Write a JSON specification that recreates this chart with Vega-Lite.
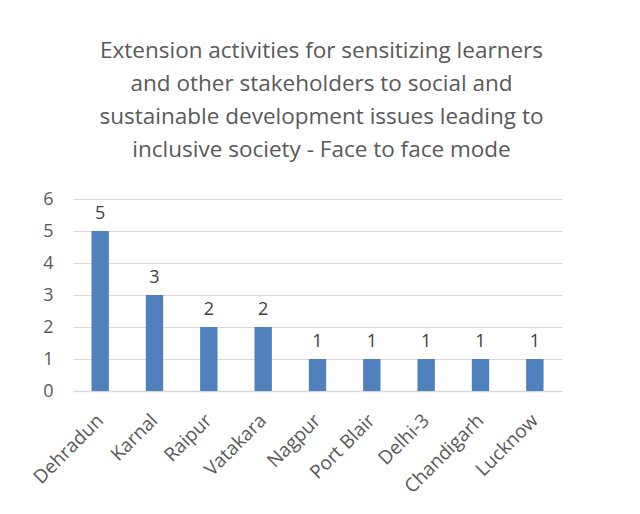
{
  "$schema": "https://vega.github.io/schema/vega-lite/v6.json",
  "width": 489,
  "height": 192,
  "autosize": "none",
  "padding": {"left": 73, "top": 199, "right": 78, "bottom": 123},
  "background": "white",
  "title": {
    "text": ["Extension activities for sensitizing learners", "and other stakeholders to social and", "sustainable development issues leading to", "inclusive society - Face to face mode"],
    "font": "Open Sans",
    "fontSize": 22.5,
    "fontWeight": "normal",
    "color": "#595959",
    "lineHeight": 33,
    "anchor": "middle",
    "dx": 4,
    "offset": 29
  },
  "data": {
    "values": [
      {"city": "Dehradun", "count": 5},
      {"city": "Karnal", "count": 3},
      {"city": "Raipur", "count": 2},
      {"city": "Vatakara", "count": 2},
      {"city": "Nagpur", "count": 1},
      {"city": "Port Blair", "count": 1},
      {"city": "Delhi-3", "count": 1},
      {"city": "Chandigarh", "count": 1},
      {"city": "Lucknow", "count": 1}
    ]
  },
  "encoding": {
    "x": {
      "field": "city", "type": "nominal", "sort": null,
      "scale": {"paddingInner": 0.68, "paddingOuter": 0.34},
      "axis": {
        "title": null, "labelAngle": -45, "labelAlign": "right", "labelBaseline": "middle",
        "labelFont": "Open Sans", "labelFontSize": 19, "labelColor": "#595959",
        "labelPadding": 26, "labelOverlap": false, "labelLimit": 200, "ticks": false, "domainColor": "#d9d9d9", "domainWidth": 1.5, "grid": false
      }
    },
    "y": {
      "field": "count", "type": "quantitative",
      "scale": {"domain": [0, 6], "nice": false},
      "axis": {
        "title": null, "values": [0,1,2,3,4,5,6], "labelOverlap": false, "labelFont": "Open Sans", "labelFontSize": 18,
        "labelColor": "#595959", "labelPadding": 20, "ticks": false, "domain": false,
        "gridColor": "#d9d9d9", "gridWidth": 1.2
      }
    }
  },
  "layer": [
    {"mark": {"type": "bar", "color": "#4f81bd"}},
    {"mark": {"type": "text", "dy": -17, "font": "Open Sans", "fontSize": 18, "color": "#404040"},
     "encoding": {"text": {"field": "count"}}}
  ],
  "config": {"view": {"stroke": null}}
}
